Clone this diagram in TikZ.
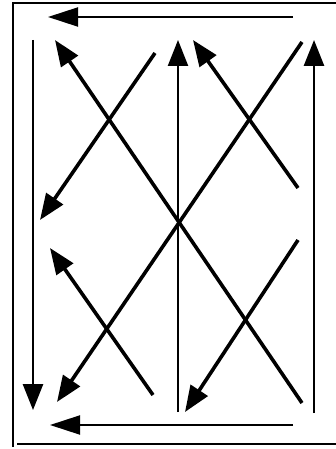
\documentclass[tikz,border=0pt]{standalone}
\usetikzlibrary{arrows.meta}

\begin{document}
\begin{tikzpicture}[x=1pt,y=-1pt,
  frameline/.style={line width=2.4pt},
  arr/.style={line width=3.6pt,-{Triangle[length=26pt,width=20pt]}},
  thinarr/.style={line width=2pt,-{Triangle[length=30pt,width=19pt]}}]

\useasboundingbox (0,0) rectangle (336,449);

% frame
\draw[frameline] (336,3) --(13,3) --(13,447);
\draw[frameline] (17,444) --(336,444);

% top and bottom
\draw[thinarr] (293,17) --(48,17);
\draw[thinarr] (293,425) --(50,425);

% verticals
\draw[arr, line width=2.6pt] (33,40) --(33,410);
\draw[arr, line width=2.4pt] (178,412) --(178,40);
\draw[arr, line width=2.6pt] (314,413) --(314,40);

% big X
\draw[arr] (302,403) --(55,40);
\draw[arr] (302,42) --(57,402);

% small crossings
\draw[arr] (155,53) --(40,220);
\draw[arr] (298,188) --(193,40);
\draw[arr] (153,395) --(50,248);
\draw[arr] (298,240) --(185,412);

\end{tikzpicture}
\end{document}
